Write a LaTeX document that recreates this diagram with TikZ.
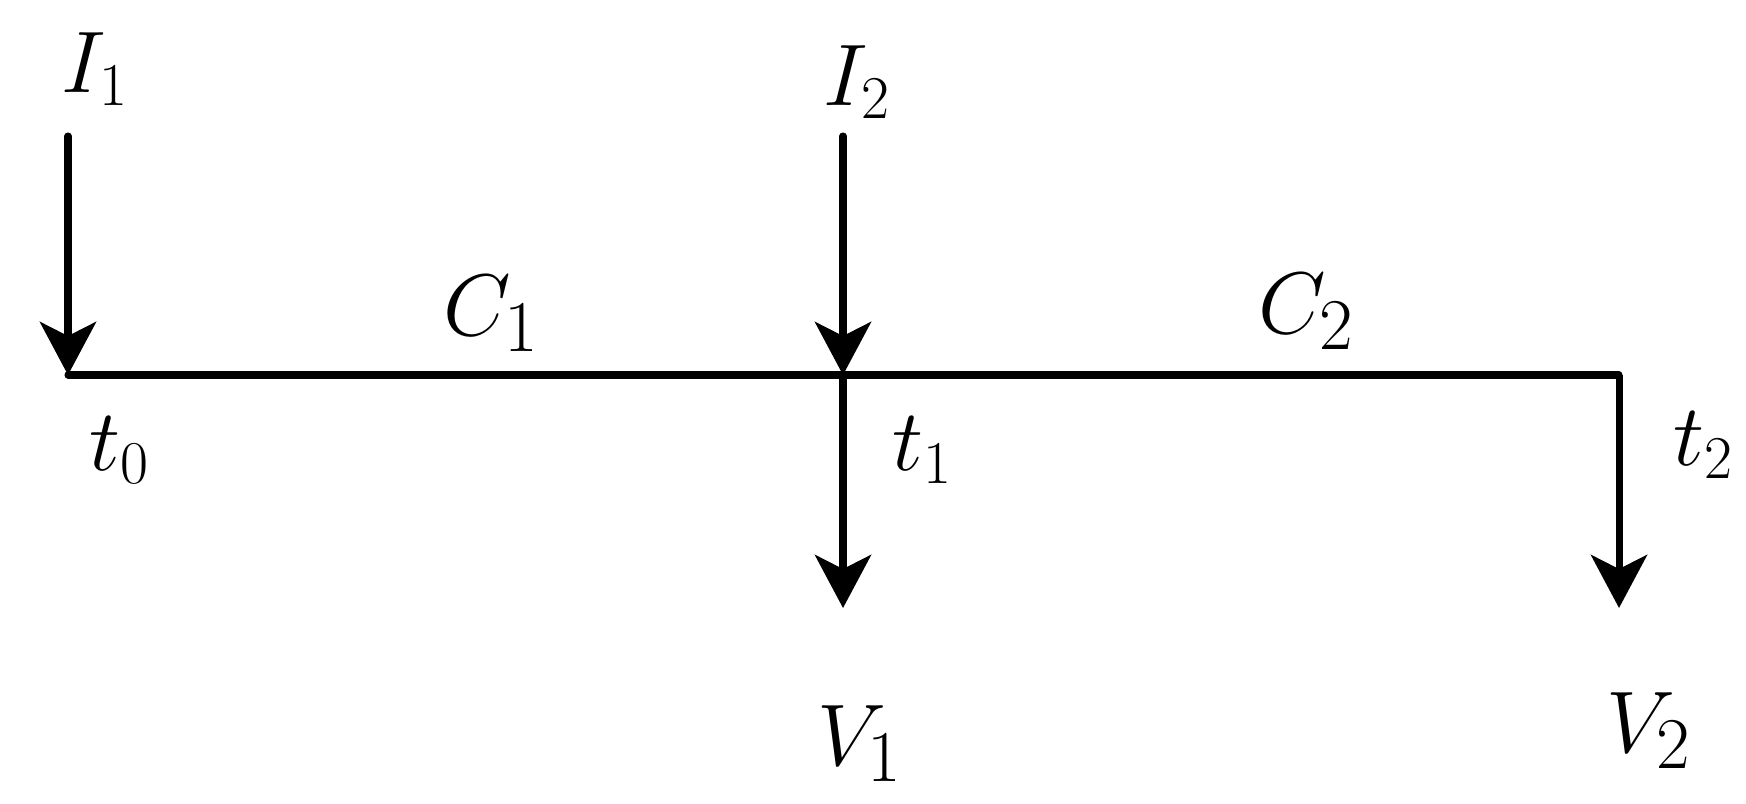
\documentclass[tikz,border=0pt]{standalone}
\usepackage{amsmath}
\usetikzlibrary{arrows.meta}

\begin{document}
\begin{tikzpicture}[x=0.01cm, y=-0.01cm, line width=2pt,
    flow/.style = {-{Stealth[length=0.53cm, width=0.56cm, inset=0.14cm]}},
    lab/.style = {anchor=base west, inner sep=0pt, font=\fontsize{27}{27}\selectfont},
    big/.style = {lab, font=\fontsize{32}{32}\selectfont}]
    \useasboundingbox (0,0) rectangle (1746,803);

    \coordinate (T0) at (68,375);
    \coordinate (T1) at (843,375);
    \coordinate (T2) at (1619,375);
    \coordinate (A1) at (68,136);
    \coordinate (A2) at (843,136);
    \coordinate (B1) at (843,608);
    \coordinate (B2) at (1619,608);

    \node[lab] (I1) at (58,92) {$I_1$};
    \node[lab] (I2) at (820,105) {$I_2$};
    \node[lab, font=\fontsize{29}{29}\selectfont] (C1) at (440,335) {$C_1$};
    \node[big] (C2) at (1255,333) {$C_2$};
    \node[lab] (t0) at (86,470) {$t_0$};
    \node[lab] (t1) at (889,470) {$t_1$};
    \node[lab] (t2) at (1670,465) {$t_2$};
    \node[big] (V1) at (814,765) {$V_1$};
    \node[big] (V2) at (1603,752) {$V_2$};

    \draw[line cap=round] (T0) -- (T2);
    \draw[flow, line cap=round] (A1) -- (T0);
    \draw[flow, line cap=round] (A2) -- (T1);
    \draw[flow] (T1) -- (B1);
    \draw[flow] (T2) -- (B2);
\end{tikzpicture}
\end{document}
